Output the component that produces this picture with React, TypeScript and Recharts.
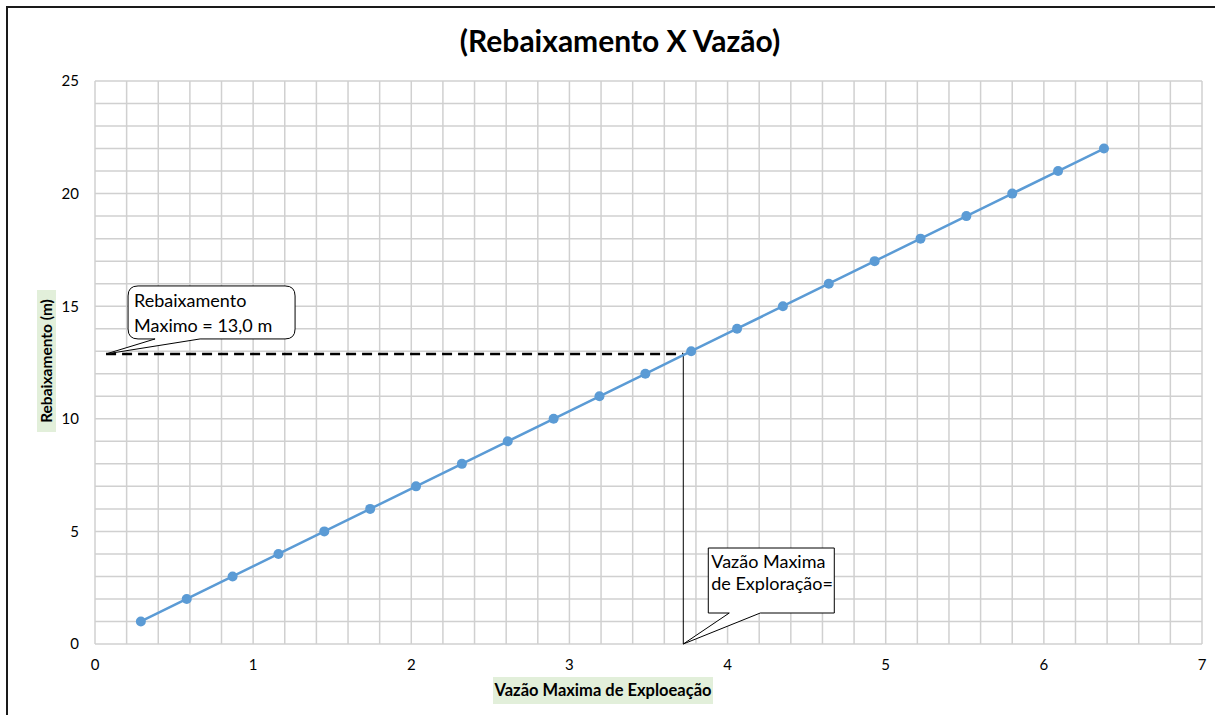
import { CartesianGrid, Line, LineChart, ReferenceDot, ReferenceLine, XAxis, YAxis } from "recharts";

const vazao = [0.29, 0.58, 0.87, 1.16, 1.45, 1.74, 2.03, 2.32, 2.61, 2.9, 3.19, 3.48, 3.77, 4.06, 4.35, 4.64, 4.93, 5.22, 5.51, 5.8, 6.09, 6.38];
const rebaixamento = [1, 2, 3, 4, 5, 6, 7, 8, 9, 10, 11, 12, 13, 14, 15, 16, 17, 18, 19, 20, 21, 22];

// grid steps (labels only on the whole numbers / multiples of 5)
const xTicks = [0, 0.2, 0.4, 0.6, 0.8, 1, 1.2, 1.4, 1.6, 1.8, 2, 2.2, 2.4, 2.6, 2.8, 3, 3.2, 3.4, 3.6, 3.8, 4, 4.2, 4.4, 4.6, 4.8, 5, 5.2, 5.4, 5.6, 5.8, 6, 6.2, 6.4, 6.6, 6.8, 7];
const yTicks = [0, 1, 2, 3, 4, 5, 6, 7, 8, 9, 10, 11, 12, 13, 14, 15, 16, 17, 18, 19, 20, 21, 22, 23, 24, 25];
const xLabels = [0, 1, 2, 3, 4, 5, 6, 7];
const yLabels = [0, 5, 10, 15, 20, 25];

// annotation values
const maxRebaixamento = 12.88;
const maxVazao = 3.72;
const leftStart = 0.07;

const data = vazao.map((x, i) => ({ x, y: rebaixamento[i] }));

const FONT = "Lato, 'Open Sans', sans-serif";
const GREEN = "#e2efda";

function CalloutMax(props: any) {
  const { cx, cy } = props;
  const x0 = cx + 22, y0 = cy - 68, x1 = cx + 189, y1 = cy - 15, r = 10;
  const a = cx + 49, b = cx + 94;
  const d = `M${x0 + r},${y0} H${x1 - r} Q${x1},${y0} ${x1},${y0 + r} V${y1 - r} Q${x1},${y1} ${x1 - r},${y1} H${b} L${cx},${cy} L${a},${y1} H${x0 + r} Q${x0},${y1} ${x0},${y1 - r} V${y0 + r} Q${x0},${y0} ${x0 + r},${y0} Z`;
  return (
    <g>
      <path d={d} fill="#fff" stroke="#000" strokeWidth={1} />
      <text x={x0 + 6} y={y0 + 21} fontSize={18} fontFamily={FONT} fill="#000">Rebaixamento</text>
      <text x={x0 + 6} y={y0 + 46} fontSize={18} fontFamily={FONT} fill="#000">Maximo = 13,0 m</text>
    </g>
  );
}

function CalloutVazao(props: any) {
  const { cx, cy } = props;
  const x0 = cx + 25, y0 = cy - 96, x1 = cx + 151, y1 = cy - 31;
  const a = cx + 46, b = cx + 77;
  const d = `M${x0},${y0} H${x1} V${y1} H${b} L${cx},${cy} L${a},${y1} H${x0} Z`;
  return (
    <g>
      <path d={d} fill="#fff" stroke="#000" strokeWidth={1} />
      <text x={x0 + 3} y={y0 + 20} fontSize={18} fontFamily={FONT} fill="#000">Vazão Maxima</text>
      <text x={x0 + 3} y={y0 + 42} fontSize={18} fontFamily={FONT} fill="#000">de Exploração=</text>
    </g>
  );
}

export default function App() {
  return (
    <div style={{ position: "absolute", left: 0, top: 0, width: 1215, height: 715, overflow: "hidden", background: "#fff", fontFamily: FONT }}>
      <div style={{ position: "absolute", left: 6, top: 6, width: 1215, height: 715, border: "2px solid #1a1a1a", boxSizing: "border-box" }} />
      <div style={{ position: "absolute", left: 0, top: 22, width: 1240, textAlign: "center", fontSize: 30, fontWeight: 700, color: "#000" }}>
        (Rebaixamento X Vazão)
      </div>
      <div style={{ position: "absolute", left: 0, top: 0 }}>
        <LineChart width={1215} height={715} data={data} margin={{ top: 81, right: 13, bottom: 21, left: 15 }}>
          <CartesianGrid stroke="#d0d0d0" strokeWidth={1.5} />
          <XAxis
            type="number"
            dataKey="x"
            domain={[0, 7]}
            ticks={xTicks}
            interval={0}
            height={50}
            axisLine={false}
            tickLine={false}
            tickSize={0}
            tickMargin={15}
            tickFormatter={(v: number) => (xLabels.includes(v) ? String(v) : "")}
            tick={{ fill: "#000", fontSize: 15, fontFamily: FONT }}
          />
          <YAxis
            type="number"
            dataKey="y"
            domain={[0, 25]}
            ticks={yTicks}
            interval={0}
            width={80}
            axisLine={false}
            tickLine={false}
            tickSize={0}
            tickMargin={16}
            tickFormatter={(v: number) => (yLabels.includes(v) ? String(v) : "")}
            tick={{ fill: "#000", fontSize: 15, fontFamily: FONT }}
          />
          <ReferenceLine
            segment={[{ x: leftStart, y: maxRebaixamento }, { x: maxVazao, y: maxRebaixamento }]}
            stroke="#000"
            strokeWidth={2.5}
            strokeDasharray="10 6"
          />
          <ReferenceLine
            segment={[{ x: maxVazao, y: maxRebaixamento }, { x: maxVazao, y: 0 }]}
            stroke="#000"
            strokeWidth={1}
          />
          <Line
            type="linear"
            dataKey="y"
            stroke="#5b9bd5"
            strokeWidth={2.5}
            dot={{ r: 5, fill: "#5b9bd5", stroke: "#5b9bd5", strokeWidth: 0 }}
            isAnimationActive={false}
          />
          <ReferenceDot x={leftStart} y={maxRebaixamento} r={0} shape={CalloutMax} />
          <ReferenceDot x={maxVazao} y={0} r={0} shape={CalloutVazao} />
        </LineChart>
      </div>
      <div style={{ position: "absolute", left: 37, top: 290, width: 19, height: 142, background: GREEN }} />
      <div
        style={{
          position: "absolute",
          left: 46,
          top: 361,
          transform: "translate(-50%, -50%) rotate(-90deg)",
          whiteSpace: "nowrap",
          fontSize: 15.5,
          fontWeight: 700,
          color: "#000",
        }}
      >
        Rebaixamento (m)
      </div>
      <div
        style={{
          position: "absolute",
          left: 493,
          top: 677,
          width: 220,
          height: 27,
          lineHeight: "27px",
          textAlign: "center",
          background: GREEN,
          fontSize: 16.5,
          fontWeight: 700,
          color: "#000",
          whiteSpace: "nowrap",
        }}
      >
        Vazão Maxima de Exploeação
      </div>
    </div>
  );
}
